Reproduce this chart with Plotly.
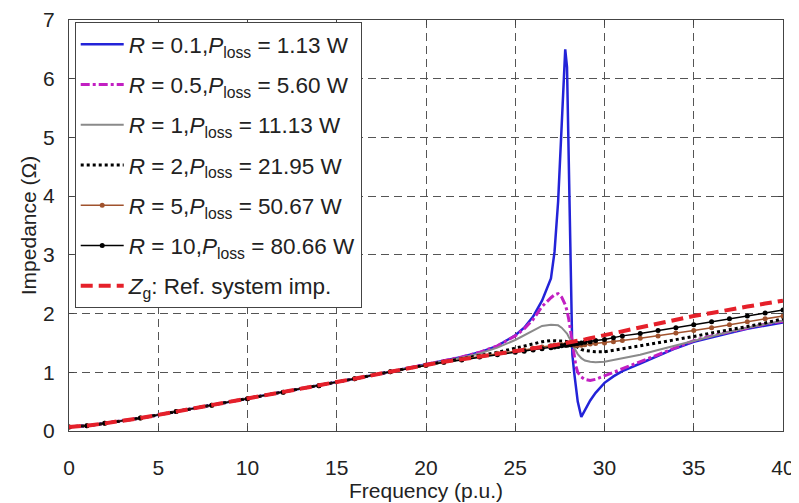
import plotly.graph_objects as go

# frequency grid (p.u.)
freq = [0, 1, 2, 4, 6, 8, 10, 12, 14, 16, 18, 20, 21, 22, 23, 24, 25, 25.5, 26, 26.5,
        27, 27.2, 27.4, 27.6, 27.8, 27.9, 28.0, 28.1, 28.2, 28.3, 28.4, 28.5, 28.7, 28.9,
        29.2, 29.5, 30, 30.5, 31, 32, 33, 34, 35, 36, 37, 38, 39, 40]

# shared low-frequency part (0..18)
low = [0.07, 0.09, 0.13, 0.22, 0.33, 0.44, 0.55, 0.66, 0.77, 0.89, 1.01]

z_r01 = low + [1.13, 1.19, 1.26, 1.34, 1.45, 1.63, 1.76, 1.95, 2.22,
               2.6, 3.05, 3.9, 5.3, 6.5, 6.2, 4.5, 2.8, 1.3, 1.0, 0.75, 0.5, 0.24, 0.36,
               0.52, 0.65, 0.82, 0.93, 1.02, 1.15, 1.28, 1.41, 1.52, 1.6, 1.67, 1.74, 1.8, 1.85]
z_r05 = low + [1.13, 1.19, 1.26, 1.34, 1.45, 1.62, 1.74, 1.9, 2.12,
               2.27, 2.32, 2.34, 2.28, 2.15, 2.05, 1.9, 1.7, 1.5, 1.25, 1.1, 1.0, 0.92, 0.88,
               0.86, 0.88, 0.94, 1.0, 1.07, 1.19, 1.31, 1.43, 1.54, 1.62, 1.69, 1.76, 1.82, 1.87]
z_r1 = low + [1.13, 1.18, 1.25, 1.32, 1.42, 1.55, 1.63, 1.72, 1.79,
              1.81, 1.81, 1.8, 1.76, 1.7, 1.66, 1.6, 1.55, 1.49, 1.42, 1.36, 1.31, 1.24, 1.2,
              1.18, 1.17, 1.18, 1.21, 1.24, 1.3, 1.38, 1.46, 1.54, 1.62, 1.69, 1.76, 1.82, 1.88]
z_r2 = low + [1.13, 1.18, 1.23, 1.28, 1.34, 1.41, 1.45, 1.49, 1.52,
              1.54, 1.54, 1.54, 1.54, 1.53, 1.52, 1.51, 1.5, 1.48, 1.46, 1.44, 1.42, 1.39, 1.37,
              1.36, 1.35, 1.35, 1.37, 1.4, 1.45, 1.5, 1.56, 1.61, 1.67, 1.72, 1.78, 1.84, 1.91]
z_r5 = low + [1.12, 1.17, 1.22, 1.27, 1.32, 1.36, 1.38, 1.41, 1.43,
              1.45, 1.46, 1.46, 1.47, 1.47, 1.48, 1.48, 1.47, 1.47, 1.46, 1.46, 1.46, 1.46, 1.47,
              1.48, 1.49, 1.5, 1.52, 1.54, 1.58, 1.62, 1.67, 1.71, 1.76, 1.81, 1.86, 1.91, 1.96]
z_r10 = low + [1.12, 1.17, 1.21, 1.26, 1.3, 1.34, 1.36, 1.38, 1.4,
               1.42, 1.43, 1.44, 1.45, 1.46, 1.46, 1.47, 1.47, 1.48, 1.48, 1.49, 1.49, 1.5, 1.51,
               1.52, 1.54, 1.56, 1.59, 1.62, 1.66, 1.71, 1.76, 1.81, 1.86, 1.91, 1.96, 2.01, 2.06]
z_ref = low + [1.13, 1.18, 1.22, 1.27, 1.32, 1.37, 1.39, 1.41, 1.43,
               1.45, 1.46, 1.47, 1.48, 1.49, 1.5, 1.5, 1.51, 1.52, 1.52, 1.53, 1.54, 1.55, 1.56,
               1.58, 1.6, 1.63, 1.67, 1.7, 1.77, 1.83, 1.9, 1.96, 2.01, 2.07, 2.12, 2.17, 2.22]

labels = [
    "<i>R</i> = 0.1,<i>P</i><sub>loss</sub> = 1.13 W",
    "<i>R</i> = 0.5,<i>P</i><sub>loss</sub> = 5.60 W",
    "<i>R</i> = 1,<i>P</i><sub>loss</sub> = 11.13 W",
    "<i>R</i> = 2,<i>P</i><sub>loss</sub> = 21.95 W",
    "<i>R</i> = 5,<i>P</i><sub>loss</sub> = 50.67 W",
    "<i>R</i> = 10,<i>P</i><sub>loss</sub> = 80.66 W",
    "<i>Z</i><sub>g</sub>: Ref. system imp.",
]

styles = [
    dict(color="#2323d8", width=2.5, dash="solid"),
    dict(color="#c21fc2", width=3, dash="dashdot"),
    dict(color="#8a8a8a", width=2, dash="solid"),
    dict(color="#000000", width=3, dash="dot"),
    dict(color="#a0522d", width=1.5, dash="solid"),
    dict(color="#000000", width=1.5, dash="solid"),
    dict(color="#e5202a", width=4, dash="12px,6px"),
]
with_markers = [False, False, False, False, True, True, False]

fig = go.Figure()
for i, (vals, name) in enumerate(zip([z_r01, z_r05, z_r1, z_r2, z_r5, z_r10, z_ref], labels)):
    st = styles[i]
    fig.add_trace(go.Scatter(
        x=freq, y=vals, name=name,
        mode="lines+markers" if with_markers[i] else "lines",
        line=st,
        marker=dict(size=5, color=st["color"]),
        legendgroup=f"g{i}",
    ))

axis_common = dict(
    showline=True, linecolor="#444", linewidth=1, mirror="ticks",
    ticks="inside", ticklen=5, tickcolor="#444",
    showgrid=True, gridcolor="#555", gridwidth=1, griddash="8px,5px",
    zeroline=False, automargin=False, ticklabeloverflow="allow",
    tickfont=dict(size=21, color="#222"),
)

fig.update_xaxes(range=[0, 40], dtick=5, ticklabelstandoff=18,
                 title=dict(text="Frequency (p.u.)", font=dict(size=21, color="#222"), standoff=4),
                 **axis_common)
fig.update_yaxes(range=[0, 7], dtick=1, ticklabelstandoff=9,
                 title=dict(text="Impedance (Ω)", font=dict(size=21, color="#222"), standoff=0),
                 **axis_common)

# the page body adds an 8px offset, so the figure is drawn 8px smaller
fig.update_layout(
    width=791, height=495,
    margin=dict(l=61, r=16, t=12, b=72),
    paper_bgcolor="white", plot_bgcolor="white",
    font=dict(family="Liberation Sans, Arial, sans-serif", color="#222"),
    legend=dict(
        x=0.008, y=0.995, xanchor="left", yanchor="top",
        bgcolor="white", bordercolor="#444", borderwidth=1,
        font=dict(size=22.5, color="#222"), itemwidth=43,
        traceorder="grouped", tracegroupgap=8,
    ),
    showlegend=True,
)

fig.write_html("out.html")
